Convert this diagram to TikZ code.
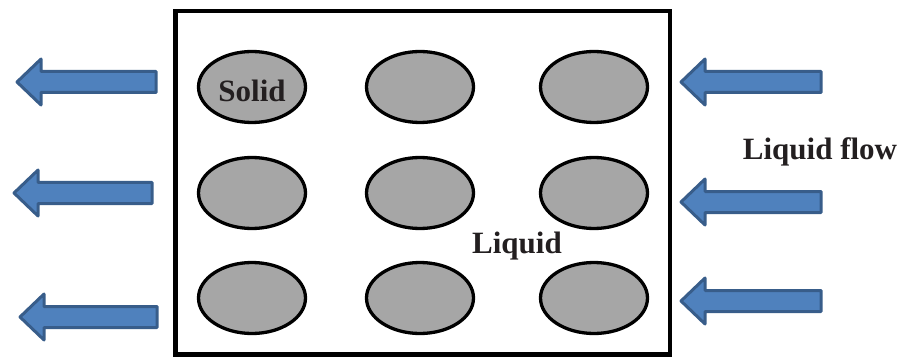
\documentclass[tikz,border=0pt]{standalone}
\usepackage{fontspec}
\setmainfont{Liberation Serif}
\usetikzlibrary{shapes.geometric}

\definecolor{arrowfill}{HTML}{4F81BD}
\definecolor{arrowedge}{HTML}{385D8A}
\definecolor{solidfill}{HTML}{A6A6A6}
\definecolor{labeltext}{HTML}{231F20}

\tikzset{
  vessel/.style={draw=black, line width=4.5pt},
  particle/.style={ellipse, draw=black, fill=solidfill, line width=3.3pt,
    minimum width=107pt, minimum height=71pt, inner sep=0pt},
  flowarrowstyle/.style={draw=arrowedge, fill=arrowfill, line width=3pt, line join=round},
  bigtext/.style={font=\fontsize{31}{36}\selectfont\bfseries, text=labeltext, inner sep=0pt}
}

% left-pointing block arrow: tip x, tail x, centre y
\newcommand\flowarrow[3]{%
  \draw[flowarrowstyle] (#1,#3) -- ({#1+24},{#3-23}) -- ({#1+24},{#3-10.5})
    -- (#2,{#3-10.5}) -- (#2,{#3+10.5}) -- ({#1+24},{#3+10.5})
    -- ({#1+24},{#3+23}) -- cycle;}

\begin{document}
\begin{tikzpicture}[x=1pt, y=-1pt]
  \useasboundingbox (0,0) rectangle (904,358);

  % container
  \draw[vessel] (175.5,11) rectangle (670,354.5);

  % solid particles
  \node[particle] (p11) at (252,87) {};
  \node[particle] (p12) at (420,87) {};
  \node[particle] (p13) at (594,87) {};
  \node[particle] (p21) at (252,193) {};
  \node[particle] (p22) at (420,193) {};
  \node[particle] (p23) at (594,193) {};
  \node[particle] (p31) at (252,298) {};
  \node[particle] (p32) at (420,298) {};
  \node[particle] (p33) at (594,298) {};

  % labels
  \node[bigtext, anchor=base] (solid) at (252,102) {Solid};
  \node[bigtext, anchor=base] (liquid) at (517,253) {Liquid};
  \node[bigtext, anchor=base] (flow) at (820,160) {Liquid flow};

  % outgoing flow (left side)
  \flowarrow{17}{156}{82}
  \flowarrow{14}{152}{193}
  \flowarrow{20}{157}{317}

  % incoming flow (right side)
  \flowarrow{681}{821}{82}
  \flowarrow{681}{821}{202}
  \flowarrow{681}{821}{301}
\end{tikzpicture}
\end{document}
